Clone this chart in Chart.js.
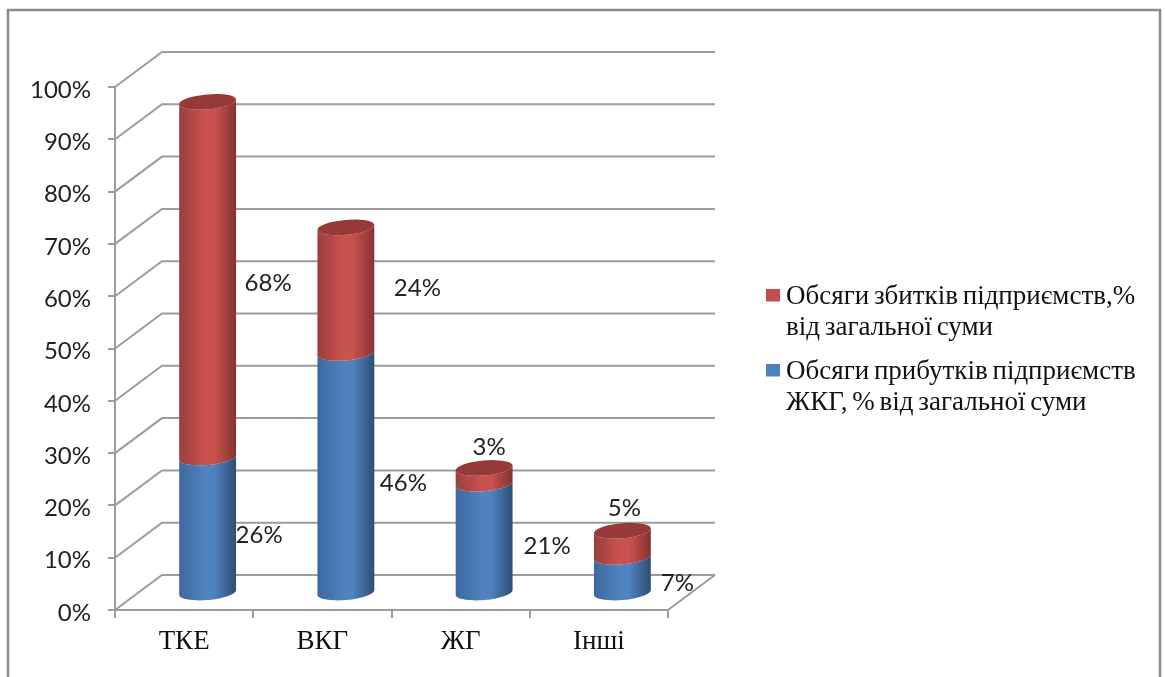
<!DOCTYPE html>
<html><head><meta charset="utf-8">
<script src="https://cdn.jsdelivr.net/npm/chart.js@4"></script>
<style>html,body{margin:0;padding:0;background:#fff;overflow:hidden}canvas{display:block;filter:blur(0.45px)}</style>
</head><body><canvas id="c" width="1165" height="677"></canvas>
<script>
const categories = ["ТКЕ", "ВКГ", "ЖГ", "Інші"];
const profitValues = [26, 46, 21, 7];
const lossValues = [68, 24, 3, 5];
const profitName = ["Обсяги прибутків підприємств", "ЖКГ, % від загальної суми"];
const lossName = ["Обсяги збитків підприємств,%", "від загальної суми"];

// style / offsets, not data
const DEPTH_X = 47, DEPTH_Y = 35;
const CYL_SHIFT = 16.5;
const TILT = -5 * Math.PI / 180, RY = 7.5;
const GRID = "#9c9c9c";
const SANS = "Lato, sans-serif", SERIF = "'Liberation Serif', serif";
const shades = [
  {edgeL:"#3d689d", mid:"#4f82be", edgeR:"#2e4e75"},
  {edgeL:"#993f3d", mid:"#c9524f", edgeR:"#843331", top:"#953a38"}
];
const labelNudge = [
  [[51.5,11.5],[57.5,12],[63,9.4],[55,10]],
  [[60.5,4.5],[71.5,-1],[5,-28],[2,-35]]
];
const legendItems = [
  {lines:lossName, color:"#c0504d", top:289},
  {lines:profitName, color:"#4f81bd", top:364}
];

const scene = {
  id:"scene",
  beforeDraw(chart){
    const c = chart.ctx;
    c.save();
    c.strokeStyle = "#8a8a8a"; c.lineWidth = 2.5;
    c.beginPath(); c.moveTo(8,677); c.lineTo(8,10); c.lineTo(1160,10); c.lineTo(1160,677); c.stroke();
    c.restore();
  },
  beforeDatasetsDraw(chart){
    const c = chart.ctx, ys = chart.scales.y, xs = chart.scales.x;
    const L = xs.left, R = xs.right;
    c.save();
    c.strokeStyle = GRID; c.lineWidth = 2; c.lineJoin = "miter";
    ys.ticks.forEach(t => {
      const y = ys.getPixelForValue(t.value);
      c.beginPath(); c.moveTo(L,y); c.lineTo(L+DEPTH_X,y-DEPTH_Y); c.lineTo(R+DEPTH_X,y-DEPTH_Y); c.stroke();
    });
    const y0 = ys.getPixelForValue(0);
    c.beginPath(); c.moveTo(R,y0); c.lineTo(R+DEPTH_X,y0-DEPTH_Y); c.stroke();
    // cylinders
    const m0 = chart.getDatasetMeta(0), m1 = chart.getDatasetMeta(1);
    const segment = (el, s, isTop) => {
      const cx = el.x + DEPTH_X/2, yT = el.y - CYL_SHIFT, yB = el.base - CYL_SHIFT, rx = el.width/2;
      const g = c.createLinearGradient(cx-rx,0,cx+rx,0);
      g.addColorStop(0,s.edgeL); g.addColorStop(0.45,s.mid); g.addColorStop(0.62,s.mid); g.addColorStop(1,s.edgeR);
      c.fillStyle = g;
      c.beginPath();
      c.ellipse(cx,yB,rx,RY,TILT,0,Math.PI,false);
      c.ellipse(cx,yT,rx,RY,TILT,Math.PI,0,true);
      c.closePath(); c.fill();
      if(isTop){
        c.fillStyle = s.top;
        c.beginPath(); c.ellipse(cx,yT,rx,RY,TILT,0,Math.PI*2); c.fill();
      }
    };
    m0.data.forEach((el,i) => { segment(el,shades[0],false); segment(m1.data[i],shades[1],true); });
    // value labels
    c.font = "24px " + SANS; c.fillStyle = "#222"; c.textAlign = "center"; c.textBaseline = "middle";
    [m0,m1].forEach((m,d) => m.data.forEach((el,i) => {
      const v = chart.data.datasets[d].data[i];
      const n = labelNudge[d][i];
      c.fillText(v+"%", el.x + DEPTH_X/2 + n[0], (el.y+el.base)/2 - DEPTH_Y/2 + n[1]);
    }));
    // legend
    c.textAlign = "left"; c.font = "27px " + SERIF;
    c.wordSpacing = "-2px";
    legendItems.forEach(it => {
      c.fillStyle = it.color; c.fillRect(766,it.top,14,12.5);
      c.fillStyle = "#111";
      it.lines.forEach((ln,j) => c.fillText(ln,786,it.top+8+j*31));
    });
    c.restore();
    return false;
  }
};

new Chart(document.getElementById("c"),{
  type:"bar",
  data:{labels:categories,datasets:[
    {label:profitName.join(" "),data:profitValues,backgroundColor:"#4f81bd",stack:"s",barPercentage:0.413,categoryPercentage:1},
    {label:lossName.join(" "),data:lossValues,backgroundColor:"#c0504d",stack:"s",barPercentage:0.413,categoryPercentage:1}
  ]},
  options:{
    responsive:false,animation:false,devicePixelRatio:1,
    layout:{padding:{left:0,top:87,right:497,bottom:0}},
    plugins:{legend:{display:false},tooltip:{enabled:false},title:{display:false}},
    scales:{
      x:{stacked:true,
        afterFit(s){s.height=67},
        grid:{drawOnChartArea:false,drawTicks:true,tickLength:8,color:GRID,lineWidth:2},
        border:{display:true,color:GRID,width:2},
        ticks:{color:"#111",font:{family:SERIF,size:27},padding:8,maxRotation:0}},
      y:{stacked:true,min:0,max:100,
        afterFit(s){s.width=115},
        grid:{drawOnChartArea:false,drawTicks:true,tickLength:7,color:GRID,lineWidth:2},
        border:{display:true,color:GRID,width:2},
        ticks:{stepSize:10,color:"#222",font:{family:SANS,size:24},padding:17,labelOffset:3,callback:v=>v+"%"}}
    }
  },
  plugins:[scene]
});
</script></body></html>
